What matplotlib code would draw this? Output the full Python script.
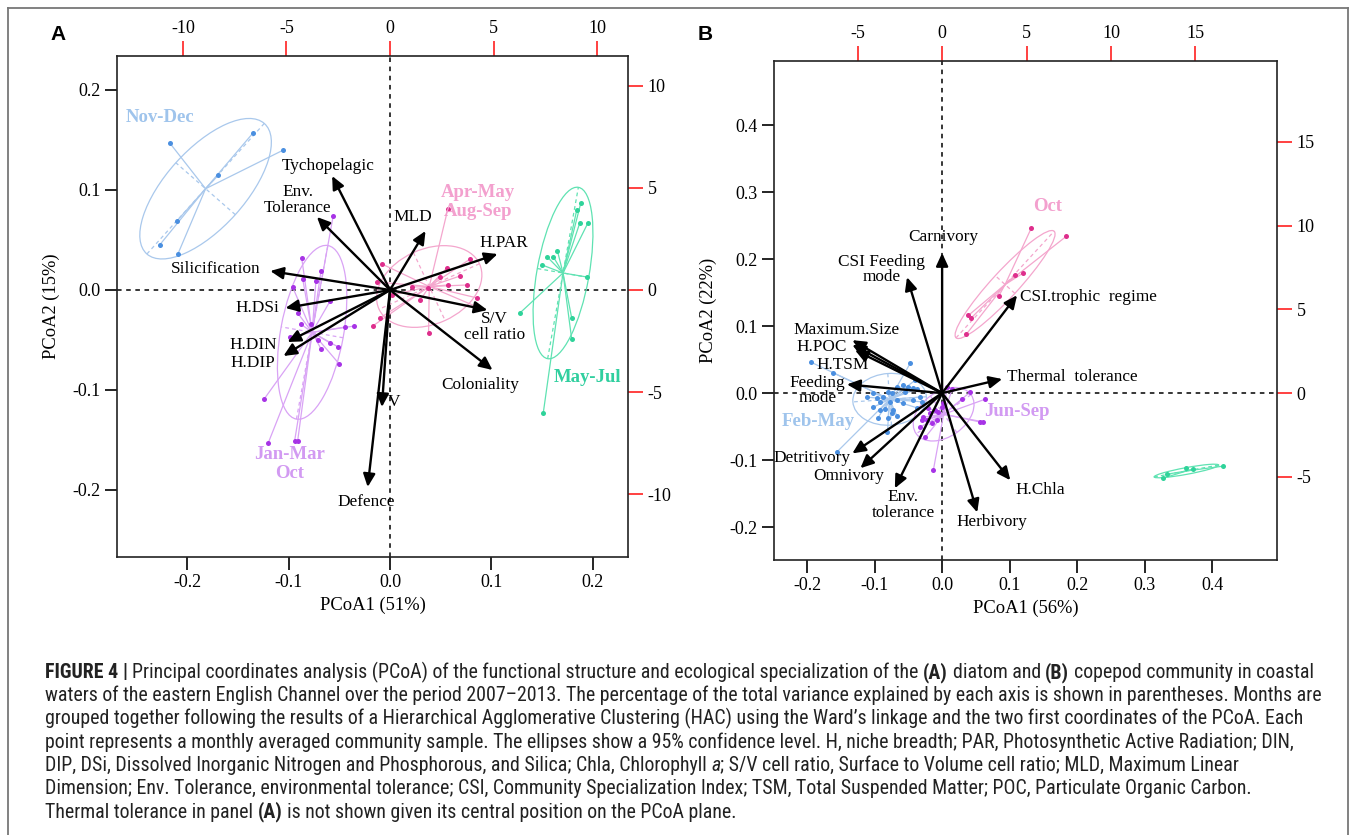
import numpy as np
import matplotlib
matplotlib.use("Agg")
import matplotlib.pyplot as plt
from matplotlib.patches import Ellipse
from matplotlib.lines import Line2D
from matplotlib import font_manager

plt.rcParams['font.family'] = ['Liberation Serif', 'DejaVu Serif']
plt.rcParams['axes.unicode_minus'] = False

# ======================= DATA =======================
# ---- Panel A (diatoms) : trait / environment vectors ----
a_vars = ['Tychopelagic', 'Env.\nTolerance', 'Silicification', 'H.DSi', 'H.DIN', 'H.DIP',
          'MLD', 'H.PAR', 'S/V\ncell ratio', 'Coloniality', 'V', 'Defence']
a_var_x = [-0.057, -0.072, -0.118, -0.103, -0.101, -0.105, 0.035, 0.106, 0.096, 0.101, -0.008, -0.022]
a_var_y = [0.114, 0.073, 0.019, -0.018, -0.052, -0.066, 0.059, 0.036, -0.020, -0.080, -0.117, -0.197]

# ---- Panel A monthly samples per cluster ----
a_groups = ['Nov-Dec', 'Jan-Mar\nOct', 'Apr-May\nAug-Sep', 'May-Jul']
a_novdec_x = [-0.217, -0.135, -0.105, -0.169, -0.210, -0.227, -0.209]
a_novdec_y = [0.147, 0.157, 0.140, 0.115, 0.069, 0.045, 0.036]
a_janmar_x = [-0.056, -0.087, -0.068, -0.073, -0.086, -0.096, -0.059, -0.091, -0.088, -0.078, -0.099,
              -0.071, -0.059, -0.068, -0.051, -0.044, -0.035, -0.050, -0.124, -0.120, -0.094, -0.091]
a_janmar_y = [0.074, 0.032, 0.019, 0.009, 0.011, 0.003, -0.011, -0.023, -0.034, -0.034, -0.047,
              -0.050, -0.053, -0.059, -0.057, -0.037, -0.036, -0.074, -0.109, -0.153, -0.151, -0.151]
a_aprmay_x = [0.057, 0.079, 0.056, 0.069, 0.076, 0.057, 0.037, 0.022, 0.086, 0.086, 0.038,
              -0.013, -0.008, -0.017, -0.010, 0.002, 0.049, 0.030]
a_aprmay_y = [0.081, 0.031, 0.022, 0.014, 0.005, 0.005, 0.002, 0.003, -0.008, -0.017, -0.043,
              0.008, 0.026, -0.036, -0.028, -0.005, 0.013, -0.010]
a_mayjul_x = [0.188, 0.184, 0.187, 0.195, 0.165, 0.150, 0.155, 0.161, 0.194, 0.179, 0.179, 0.128, 0.151]
a_mayjul_y = [0.087, 0.080, 0.067, 0.067, 0.039, 0.025, 0.033, 0.033, 0.013, -0.028, -0.049, -0.023, -0.123]

# ---- Panel B (copepods) : trait / environment vectors ----
b_vars = ['Carnivory', 'CSI Feeding\nmode', 'Maximum.Size', 'H.POC', 'H.TSM', 'Feeding\nmode',
          'Thermal  tolerance', 'CSI.trophic  regime', 'Detritivory', 'Omnivory',
          'Env.\ntolerance', 'Herbivory', 'H.Chla']
b_var_x = [0.000, -0.052, -0.133, -0.133, -0.129, -0.141, 0.089, 0.111, -0.133, -0.121, -0.070, 0.052, 0.101]
b_var_y = [0.209, 0.173, 0.079, 0.072, 0.064, 0.013, 0.021, 0.146, -0.090, -0.112, -0.142, -0.178, -0.130]

# ---- Panel B monthly samples per cluster ----
b_groups = ['Feb-May', 'Jun-Sep', 'Oct', '']
b_febmay_x = [-0.194, -0.161, -0.047, -0.058, -0.050, -0.043, -0.037, -0.067, -0.080, -0.087, -0.096,
              -0.092, -0.077, -0.067, -0.058, -0.043, -0.033, -0.084, -0.073, -0.092, -0.080, -0.095,
              -0.067, -0.081, -0.156, -0.111, -0.102, -0.040, -0.055, -0.074, -0.030, -0.037, -0.074, -0.102]
b_febmay_y = [0.046, 0.030, 0.045, 0.012, 0.009, 0.007, 0.006, 0.009, 0.001, -0.006, -0.007,
              -0.013, -0.013, -0.010, -0.015, -0.010, -0.006, -0.024, -0.025, -0.025, -0.037, -0.037,
              -0.034, -0.058, -0.088, -0.006, 0.000, 0.019, 0.001, 0.000, -0.013, -0.022, -0.030, -0.021]
b_junsep_x = [0.007, 0.015, 0.030, 0.041, 0.064, 0.056, 0.061, -0.013, -0.025, -0.033, -0.028,
              -0.022, -0.018, -0.010, -0.006, 0.000, -0.015, -0.007, 0.001, -0.021, -0.030]
b_junsep_y = [0.009, 0.006, -0.009, 0.001, -0.009, -0.043, -0.043, -0.115, -0.066, -0.051, -0.036,
              -0.040, -0.030, -0.025, -0.028, -0.021, -0.045, -0.040, -0.015, -0.022, -0.040]
b_oct_x = [0.132, 0.184, 0.108, 0.120, 0.084, 0.039, 0.043, 0.036]
b_oct_y = [0.246, 0.234, 0.176, 0.179, 0.145, 0.116, 0.112, 0.088]
b_out_x = [0.327, 0.333, 0.361, 0.372, 0.416]
b_out_y = [-0.127, -0.121, -0.111, -0.113, -0.109]

# axis ticks / labels
a_xticks = [-0.2, -0.1, 0.0, 0.1, 0.2]
a_yticks = [-0.2, -0.1, 0.0, 0.1, 0.2]
a_sec_ticks = [-10, -5, 0, 5, 10]
b_xticks = [-0.2, -0.1, 0.0, 0.1, 0.2, 0.3, 0.4]
b_yticks = [-0.2, -0.1, 0.0, 0.1, 0.2, 0.3, 0.4]
b_sec_ticks = [-5, 0, 5, 10, 15]
a_xlabel, a_ylabel = 'PCoA1 (51%)', 'PCoA2 (15%)'
b_xlabel, b_ylabel = 'PCoA1 (56%)', 'PCoA2 (22%)'
a_sec_factor = 49.0
b_sec_factor = 40.0

caption_lines = [
    [("FIGURE 4 |", 'bold', 'normal', False),
     ("Principal coordinates analysis (PCoA) of the functional structure and ecological specialization of the", 'normal', 'normal', True),
     ("(A)", 'bold', 'normal', True), ("diatom and", 'normal', 'normal', True),
     ("(B)", 'bold', 'normal', True), ("copepod community in coastal", 'normal', 'normal', True)],
    [("waters of the eastern English Channel over the period 2007\u20132013. The percentage of the total variance explained by each axis is shown in parentheses. Months are", 'normal', 'normal', False)],
    [("grouped together following the results of a Hierarchical Agglomerative Clustering (HAC) using the Ward\u2019s linkage and the two first coordinates of the PCoA. Each", 'normal', 'normal', False)],
    [("point represents a monthly averaged community sample. The ellipses show a 95% confidence level. H, niche breadth; PAR, Photosynthetic Active Radiation; DIN,", 'normal', 'normal', False)],
    [("DIP, DSi, Dissolved Inorganic Nitrogen and Phosphorous, and Silica; Chla, Chlorophyll", 'normal', 'normal', False),
     ("a", 'normal', 'italic', True),
     ("; S/V cell ratio, Surface to Volume cell ratio; MLD, Maximum Linear", 'normal', 'normal', False)],
    [("Dimension; Env. Tolerance, environmental tolerance; CSI, Community Specialization Index; TSM, Total Suspended Matter; POC, Particulate Organic Carbon.", 'normal', 'normal', False)],
    [("Thermal tolerance in panel", 'normal', 'normal', False), ("(A)", 'bold', 'normal', True),
     ("is not shown given its central position on the PCoA plane.", 'normal', 'normal', True)],
]

# ======================= LAYOUT =======================
W, H = 1357, 835
fig = plt.figure(figsize=(W / 100, H / 100), dpi=100)


def box(l, t, r, b):
    return [l / W, 1 - b / H, (r - l) / W, (b - t) / H]


axA = fig.add_axes(box(117, 56, 628, 557))
axB = fig.add_axes(box(774, 61, 1277, 560))
axA.set_xlim(-0.269, 0.2345)
axA.set_ylim(-0.267, 0.234)
axB.set_xlim(-0.249, 0.496)
axB.set_ylim(-0.249, 0.4955)

# label positions (data coords)
a_lab_pos = [(-0.061, 0.124), (-0.091, 0.090), (-0.172, 0.021), (-0.131, -0.018), (-0.135, -0.055),
             (-0.135, -0.073), (0.022, 0.073), (0.112, 0.047), (0.103, -0.037), (0.089, -0.095),
             (0.004, -0.112), (-0.023, -0.212)]
b_lab_pos = [(0.001, 0.233), (-0.090, 0.184), (-0.141, 0.094), (-0.178, 0.069), (-0.148, 0.042),
             (-0.185, 0.004), (0.096, 0.024), (0.116, 0.143), (-0.193, -0.097), (-0.139, -0.124),
             (-0.058, -0.167), (0.074, -0.193), (0.145, -0.145)]
b_lab_ha = ['center'] * 6 + ['left', 'left'] + ['center'] * 5

a_group_data = [(a_novdec_x, a_novdec_y), (a_janmar_x, a_janmar_y), (a_aprmay_x, a_aprmay_y), (a_mayjul_x, a_mayjul_y)]
a_group_lab = [(-0.227, 0.172), (-0.099, -0.174), (0.087, 0.088), (0.195, -0.087)]
b_group_data = [(b_febmay_x, b_febmay_y), (b_junsep_x, b_junsep_y), (b_oct_x, b_oct_y), (b_out_x, b_out_y)]
b_group_lab = [(-0.184, -0.042), (0.111, -0.028), (0.156, 0.278), None]

blue = ('#a9c8ec', '#4a8fe0', '#9fc4ec')
violet = ('#d9a3f5', '#a733e6', '#d29af2')
pink = ('#f4a6cd', '#de2e8c', '#f3a0ce')
green = ('#5fe2b2', '#2fd39a', '#30cf9f')
a_colors = [blue, violet, pink, green]
b_colors = [blue, violet, pink, green]

LABSIZE = 12.4
TICKSIZE = 13


def draw_group(ax, xs, ys, cols, k=1.5):
    xs = np.asarray(xs)
    ys = np.asarray(ys)
    light, dark, _ = cols
    cx, cy = xs.mean(), ys.mean()
    for x, y in zip(xs, ys):
        ax.plot([cx, x], [cy, y], color=light, lw=0.9, zorder=2)
    cov = np.cov(np.vstack([xs, ys]), bias=True)
    vals, vecs = np.linalg.eigh(cov)
    vals = np.clip(vals, 1e-9, None)
    ang = np.degrees(np.arctan2(vecs[1, 1], vecs[0, 1]))
    ell = Ellipse((cx, cy), 2 * k * np.sqrt(vals[1]), 2 * k * np.sqrt(vals[0]), angle=ang,
                  fill=False, ec=light, lw=0.9, zorder=2)
    ax.add_patch(ell)
    for i in range(2):
        v = vecs[:, i] * k * np.sqrt(vals[i])
        ax.plot([cx - v[0], cx + v[0]], [cy - v[1], cy + v[1]], color=light, lw=0.9,
                ls=(0, (3, 2.5)), zorder=2)
    ax.scatter(xs, ys, s=13, color=dark, zorder=3, linewidths=0)


def style_axes(ax, xticks, yticks, sec_ticks, factor, xlabel, ylabel):
    for s in ax.spines.values():
        s.set_linewidth(1.2)
        s.set_color('#222222')
    ax.axhline(0, color='k', lw=1.1, ls=(0, (3, 3)), zorder=1)
    ax.axvline(0, color='k', lw=1.1, ls=(0, (3, 3)), zorder=1)
    ax.set_xticks(xticks, labels=['%.1f' % t for t in xticks])
    ax.set_yticks(yticks, labels=['%.1f' % t for t in yticks])
    ax.tick_params(axis='both', direction='out', length=9, width=1.2, labelsize=TICKSIZE, pad=3,
                   top=False, right=False)
    ax.set_xlabel(xlabel, fontsize=13.3, labelpad=4)
    ax.set_ylabel(ylabel, fontsize=13.3, labelpad=9)
    secx = ax.secondary_xaxis('top', functions=(lambda x: x * factor, lambda x: x / factor))
    secy = ax.secondary_yaxis('right', functions=(lambda y: y * factor, lambda y: y / factor))
    for sec in (secx, secy):
        sec.set_ticks(sec_ticks, labels=['%d' % t for t in sec_ticks])
        sec.tick_params(direction='out', length=11, width=1.2, color='#ff2020', labelcolor='k',
                        labelsize=TICKSIZE, pad=3)
        for s in sec.spines.values():
            s.set_visible(False)


def draw_arrows(ax, xs, ys, names, pos, has=None):
    for i, (x, y, n) in enumerate(zip(xs, ys, names)):
        ax.annotate('', xy=(x, y), xytext=(0, 0),
                    arrowprops=dict(arrowstyle='-|>,head_length=0.65,head_width=0.3', color='k',
                                    lw=1.7, shrinkA=0, shrinkB=0, mutation_scale=12), zorder=5)
        ha = has[i] if has else 'center'
        ax.text(pos[i][0], pos[i][1], n, ha=ha, va='center', fontsize=LABSIZE, color='k',
                multialignment='center', linespacing=0.95, zorder=6)


# ---- Panel A ----
style_axes(axA, a_xticks, a_yticks, a_sec_ticks, a_sec_factor, a_xlabel, a_ylabel)
for (gx, gy), cols, name, lp in zip(a_group_data, a_colors, a_groups, a_group_lab):
    draw_group(axA, gx, gy, cols)
    axA.text(lp[0], lp[1], name, color=cols[2], fontsize=13.5, fontweight='bold', ha='center',
             va='center', linespacing=1.15, zorder=6)
draw_arrows(axA, a_var_x, a_var_y, a_vars, a_lab_pos)

# ---- Panel B ----
style_axes(axB, b_xticks, b_yticks, b_sec_ticks, b_sec_factor, b_xlabel, b_ylabel)
for (gx, gy), cols, name, lp in zip(b_group_data, b_colors, b_groups, b_group_lab):
    draw_group(axB, gx, gy, cols)
    if lp is not None:
        axB.text(lp[0], lp[1], name, color=cols[2], fontsize=13.5, fontweight='bold', ha='center',
                 va='center', zorder=6)
draw_arrows(axB, b_var_x, b_var_y, b_vars, b_lab_pos, b_lab_ha)

# panel letters
fig.text(58 / W, 1 - 35 / H, 'A', fontsize=15, fontweight='bold', family=['Liberation Sans', 'DejaVu Sans'],
         ha='center', va='center')
fig.text(705 / W, 1 - 35 / H, 'B', fontsize=15, fontweight='bold', family=['Liberation Sans', 'DejaVu Sans'],
         ha='center', va='center')

# figure frame
for xs_, ys_ in [([8, 8], [840, 8]), ([8, 1348], [8, 8]), ([1348, 1348], [8, 840])]:
    fig.add_artist(Line2D([x / W for x in xs_], [1 - y / H for y in ys_], color='#777777', lw=1.3,
                          transform=fig.transFigure))

# ---- Caption ----
def has_font(name):
    try:
        font_manager.findfont(font_manager.FontProperties(family=name), fallback_to_default=False)
        return True
    except Exception:
        return False


cap_family = ['Liberation Sans', 'DejaVu Sans']
for cand in ['Liberation Sans Narrow', 'Roboto Condensed', 'Open Sans Condensed', 'Noto Sans Condensed']:
    if has_font(cand):
        cap_family = [cand, 'Liberation Sans', 'DejaVu Sans']
        break
renderer = fig.canvas.get_renderer()


def text_width(s, size, weight='normal', style='normal'):
    t = fig.text(0, 0, s, fontsize=size, fontweight=weight, fontstyle=style, family=cap_family)
    w = t.get_window_extent(renderer).width
    t.remove()
    return w


def line_width(pieces, size):
    sp = text_width('a a', size) - text_width('aa', size)
    w = 0
    for txt, wt, st, spb in pieces:
        if spb:
            w += sp
        w += text_width(txt, size, wt, st)
    return w


target = 1318 - 45
size0 = 12.0
cap_size = size0 * target / line_width(caption_lines[1], size0)


def rich_line(x_px, y_px, pieces, size):
    sp = text_width('a a', size) - text_width('aa', size)
    x = x_px
    for txt, wt, st, spb in pieces:
        if spb:
            x += sp
        t = fig.text(x / W, 1 - y_px / H, txt, fontsize=size, fontweight=wt, fontstyle=st,
                     family=cap_family, ha='left', va='baseline', color='#222222')
        x = t.get_window_extent(renderer).x1


for i, pieces in enumerate(caption_lines):
    rich_line(45, 678 + i * 23.3, pieces, cap_size)

fig.savefig('out.png', dpi=100)
